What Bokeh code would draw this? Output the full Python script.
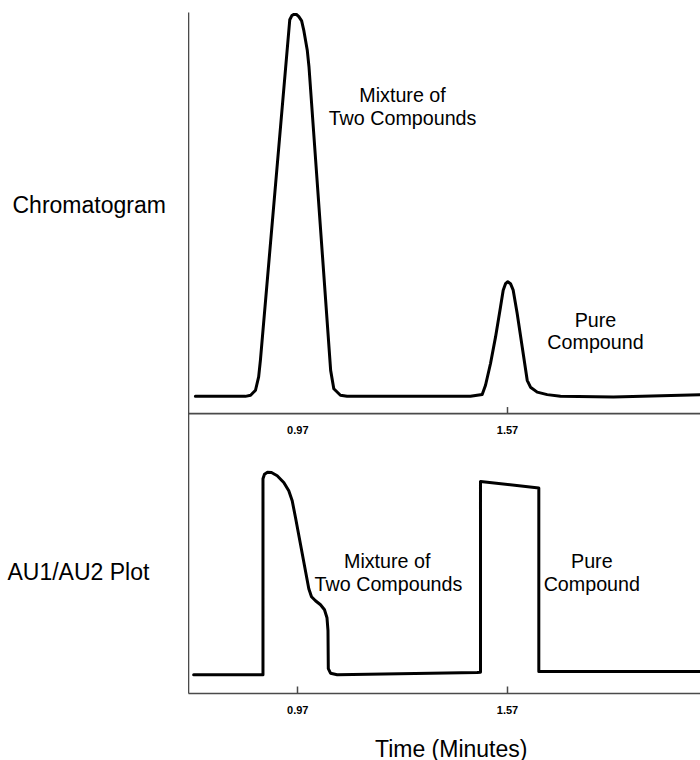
from bokeh.plotting import figure
from bokeh.layouts import row, column
from bokeh.models import Range1d, FixedTicker, Span
from bokeh.core.properties import value
from bokeh.embed import file_html
from bokeh.resources import INLINE

# ---------------- data ----------------
# Chromatogram (upper trace), time in minutes, relative absorbance
chrom_time = [0.677, 0.820, 0.835, 0.849, 0.858, 0.863, 0.947, 0.953, 0.959, 0.966,
              0.973, 0.981, 0.987, 0.997, 1.002, 1.064, 1.073, 1.092, 1.111,
              1.464, 1.4976, 1.5071, 1.5214, 1.5357, 1.5500, 1.5577, 1.5643, 1.5709,
              1.5786, 1.5863, 1.5977, 1.6121, 1.6264, 1.6358, 1.6550, 1.6836, 1.7217,
              1.873, 2.122]
chrom_signal = [0, 0, 0.3, 1.6, 5.1, 9.4, 98.6, 99.7, 100, 100,
                99.4, 98.3, 95.9, 90.7, 86.3, 6.8, 2.0, 0.3, 0,
                0, 0.5, 2.9, 8.6, 15.5, 23.4, 27.8, 29.5, 30.0,
                29.5, 27.8, 21.7, 12.9, 4.2, 2.4, 1.1, 0.45, 0,
                -0.2, 0.4]

# AU1/AU2 ratio plot (lower trace)
ratio_time = [0.672, 0.8704, 0.8704, 0.8747, 0.8833, 0.8947, 0.9111, 0.9299, 0.9442,
              0.9540, 0.9634, 1.0015, 1.0092, 1.0206, 1.0350, 1.0464, 1.0535, 1.0564,
              1.0573, 1.0636, 1.0827, 1.4833, 1.4927, 1.4927, 1.6596, 1.6596, 2.122]
ratio_value = [0, 0, 0.98, 1.0025, 1.0125, 1.0115, 0.995, 0.9615, 0.92,
               0.87, 0.7865, 0.43, 0.39, 0.37, 0.35, 0.325, 0.285, 0.22,
               0.03, 0.0075, 0, 0.0115, 0.0125, 0.967, 0.934, 0.0165, 0.0165]

tick_values = [0.97, 1.57]
tick_labels = ["0.97", "1.57"]
mid_tick_values = [1.57]

panel_names = ["Chromatogram", "AU1/AU2 Plot"]
peak_notes_1 = ["Mixture of", "Two Compounds"]
peak_notes_2 = ["Pure", "Compound"]
x_title = "Time (Minutes)"

FONT = "Liberation Sans"
AXIS_COLOR = "#4a4a4a"

# shared ranges
x_main = Range1d(0.6573, 2.1222)
y_ratio = Range1d(-0.094, 3.3125)
y_chrom = Range1d(-77.8, 100.5)

# ---------------- left label panel ----------------
left = figure(width=188, height=723, output_backend="svg", toolbar_location=None,
              x_range=Range1d(0.1194, 0.6573), y_range=y_ratio,
              x_axis_location=None, y_axis_location=None,
              min_border_left=0, min_border_right=0, min_border_top=12,
              min_border_bottom=30)
left.extra_y_ranges = {"chrom": y_chrom}
left.grid.visible = False
left.outline_line_color = None
left.text(x=[0.1537], y=[50.07], text=[panel_names[0]], y_range_name="chrom",
          text_align="left", text_baseline="middle", text_font=value(FONT),
          text_font_size="23px", text_color="black")
left.text(x=[0.1394], y=[0.5125], text=[panel_names[1]],
          text_align="left", text_baseline="middle", text_font=value(FONT),
          text_font_size="23px", text_color="black")

# ---------------- main plot ----------------
p = figure(width=512, height=723, output_backend="svg", toolbar_location=None,
           x_range=x_main, y_range=y_ratio,
           min_border_left=0, min_border_right=0, min_border_top=12,
           min_border_bottom=30)
p.extra_y_ranges = {"chrom": y_chrom}
p.grid.visible = False
p.outline_line_color = None

# bottom axis
ax = p.xaxis[0]
ax.ticker = FixedTicker(ticks=tick_values)
ax.major_label_overrides = {v: l for v, l in zip(tick_values, tick_labels)}
ax.major_tick_in = 7
ax.major_tick_out = 0
ax.minor_tick_line_color = None
ax.minor_tick_out = 0
ax.axis_line_color = AXIS_COLOR
ax.axis_line_width = 1.6
ax.major_tick_line_color = AXIS_COLOR
ax.major_tick_line_width = 1.5
ax.major_label_standoff = 12
ax.major_label_text_font = FONT
ax.major_label_text_font_size = "11px"
ax.major_label_text_font_style = "bold"
ax.major_label_text_color = "black"

# left axis (line only)
ay = p.yaxis[0]
ay.ticker = FixedTicker(ticks=[])
ay.major_tick_line_color = None
ay.minor_tick_line_color = None
ay.major_tick_out = 0
ay.minor_tick_out = 0
ay.major_label_standoff = 0
ay.axis_line_color = AXIS_COLOR
ay.axis_line_width = 1.6
ay.major_label_text_font_size = "0px"

# middle axis separating the two panels
MID = -4.53
p.add_layout(Span(location=MID, dimension="width", y_range_name="chrom",
                  line_color=AXIS_COLOR, line_width=1.6))
p.segment(x0=mid_tick_values, y0=[MID] * len(mid_tick_values),
          x1=mid_tick_values, y1=[MID + 1.73] * len(mid_tick_values),
          y_range_name="chrom", line_color=AXIS_COLOR, line_width=1.5)
p.text(x=tick_values, y=[-8.9] * len(tick_values), text=tick_labels,
       y_range_name="chrom", text_align="center", text_baseline="middle",
       text_font=value(FONT), text_font_size="11px", text_font_style="bold",
       text_color="black")

# traces
p.line(chrom_time, chrom_signal, y_range_name="chrom", line_color="black",
       line_width=3, line_join="round", line_cap="round")
p.line(ratio_time, ratio_value, line_color="black",
       line_width=3, line_join="round", line_cap="round")

# annotations inside the plot
p.text(x=[1.2696, 1.2696, 1.8218, 1.8218], y=[78.9, 72.9, 19.9, 14.2],
       text=peak_notes_1 + peak_notes_2,
       y_range_name="chrom", text_align="center", text_baseline="middle",
       text_font=value(FONT), text_font_size="19.7px", text_color="black")
p.text(x=[1.2258, 1.2295, 1.8112, 1.8112], y=[0.567, 0.4535, 0.567, 0.4535],
       text=peak_notes_1 + peak_notes_2,
       text_align="center", text_baseline="middle",
       text_font=value(FONT), text_font_size="19.7px", text_color="black")

# ---------------- x title strip ----------------
strip = figure(width=700, height=37, output_backend="svg", toolbar_location=None,
               x_range=Range1d(0.1194, 2.1222), y_range=Range1d(37, 0),
               x_axis_location=None, y_axis_location=None,
               min_border_left=0, min_border_right=0, min_border_top=0,
               min_border_bottom=0)
strip.grid.visible = False
strip.outline_line_color = None
strip.text(x=[1.4089], y=[25], text=[x_title], text_align="center",
           text_baseline="middle", text_font=value(FONT), text_font_size="23px",
           text_color="black")

layout = column(row(left, p, spacing=0), strip, spacing=0)
open("out.html", "w").write(file_html(layout, INLINE))
